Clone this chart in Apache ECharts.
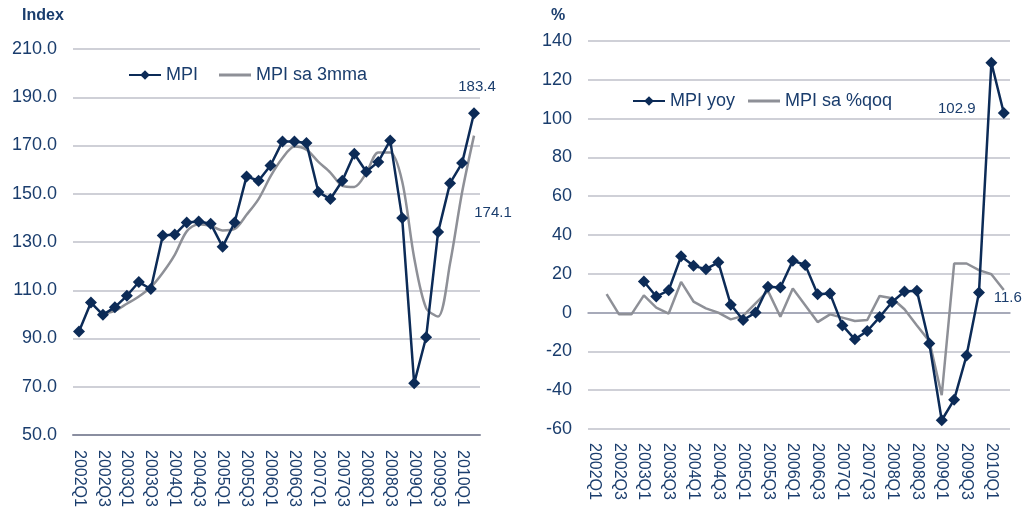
<!DOCTYPE html>
<html>
<head>
<meta charset="utf-8">
<script src="https://cdn.jsdelivr.net/npm/echarts@6/dist/echarts.min.js"></script>
<style>html,body{margin:0;padding:0;background:#fff}#c{width:1028px;height:509px}</style>
</head>
<body>
<div id="c"></div>
<script>
const categories = ['2002Q1','2002Q2','2002Q3','2002Q4','2003Q1','2003Q2','2003Q3','2003Q4',
  '2004Q1','2004Q2','2004Q3','2004Q4','2005Q1','2005Q2','2005Q3','2005Q4',
  '2006Q1','2006Q2','2006Q3','2006Q4','2007Q1','2007Q2','2007Q3','2007Q4',
  '2008Q1','2008Q2','2008Q3','2008Q4','2009Q1','2009Q2','2009Q3','2009Q4',
  '2010Q1','2010Q2'];
const mpi = [92.9, 104.9, 99.8, 103.0, 107.7, 113.4, 110.5, 132.7, 133.1, 138.1, 138.5, 137.6, 128.0, 138.1,
  157.2, 155.4, 161.7, 171.7, 171.7, 171.0, 150.7, 147.8, 155.4, 166.6, 159.1, 163.2, 172.1, 139.9,
  71.4, 90.5, 134.1, 154.4, 162.7, 183.4];
const mpiSa3mma = [null, null, 100.3, 101.5, 104.4, 107.4, 111.3, 117.3, 124.7, 134.4, 137.4, 136.7, 134.8, 135.4,
  141.3, 147.8, 157.2, 164.8, 169.6, 168.3, 163.2, 158.8, 153.3, 152.8, 158.6, 167.1, 167.1, 155.1,
  123.5, 102.6, 99.1, 121.2, 150.5, 174.1];
const mpiYoy = [null, null, null, null, 16.0, 8.3, 11.5, 29.0, 24.1, 22.4, 25.9, 4.1, -3.8, 0.0,
  13.3, 12.9, 26.7, 24.6, 9.5, 9.8, -6.6, -13.8, -9.5, -2.3, 5.5, 10.9, 11.2, -15.9,
  -55.5, -44.9, -22.1, 10.3, 128.8, 102.9];
const mpiSaQoq = [null, 9.5, -0.9, -0.9, 8.9, 2.6, -0.5, 15.8, 5.7, 2.2, 0.0, -3.5, -1.7, 4.8,
  11.2, -2.1, 12.4, 3.8, -4.9, -0.9, -2.6, -4.3, -3.8, 8.6, 7.4, 1.7, -6.6, -14.7,
  -42.6, 25.3, 25.3, 21.9, 19.8, 11.6];

const NAVY = '#0c2b57';
const GRAY = '#8e9097';
const TXT = '#1a3d6d';
const FONT = 'Liberation Sans, Arial, sans-serif';
const LAST = categories.length - 1;
const LINE_ICON = 'path://M0,0 L32,0 L32,3 L0,3 Z';

function lbl(extra) {
  return Object.assign({show: true, color: TXT, fontSize: 15, fontFamily: FONT, formatter: p => p.value.toFixed(1)}, extra);
}
function lastPoint(arr, labelCfg) {
  return {symbol: 'circle', symbolSize: 2, silent: true, itemStyle: {color: 'rgba(0,0,0,0)'},
    label: lbl(labelCfg),
    data: [{coord: [categories[LAST], arr[LAST]], value: arr[LAST]}]};
}

const xAxisBase = {
  type: 'category', data: categories, boundaryGap: true,
  axisTick: {show: false},
  axisLine: {show: true, lineStyle: {color: '#8a8ea0', width: 2}},
  axisLabel: {rotate: -90, interval: 1, color: TXT, fontSize: 16, fontFamily: FONT, margin: 15}
};
const yAxisBase = {
  type: 'value', axisLine: {show: false}, axisTick: {show: false},
  splitLine: {lineStyle: {color: '#bfc1ca', width: 1.5}},
  axisLabel: {color: TXT, fontSize: 18, fontFamily: FONT, margin: 16}
};

const option = {
  animation: false,
  textStyle: {fontFamily: FONT},
  title: [
    {text: 'Index', left: 22, top: 8, padding: 0, textStyle: {color: TXT, fontSize: 16, fontWeight: 'bold', fontFamily: FONT}},
    {text: '%', left: 551, top: 8, padding: 0, textStyle: {color: TXT, fontSize: 16, fontWeight: 'bold', fontFamily: FONT}}
  ],
  legend: [
    {data: ['MPI', {name: 'MPI sa 3mma', icon: LINE_ICON}], left: 128, top: 66, padding: 0,
      itemWidth: 32, itemHeight: 12, itemGap: 21,
      textStyle: {color: TXT, fontSize: 18, fontFamily: FONT}},
    {data: ['MPI yoy', {name: 'MPI sa %qoq', icon: LINE_ICON}], left: 632, top: 92, padding: 0,
      itemWidth: 32, itemHeight: 12, itemGap: 13,
      textStyle: {color: TXT, fontSize: 18, fontFamily: FONT}}
  ],
  grid: [
    {left: 73, right: 548, top: 49, bottom: 74, containLabel: false, outerBoundsMode: 'none'},
    {left: 588, right: 18, top: 41, bottom: 80, containLabel: false, outerBoundsMode: 'none'}
  ],
  xAxis: [
    Object.assign({}, xAxisBase, {gridIndex: 0}),
    Object.assign({}, xAxisBase, {gridIndex: 1, axisLabel: Object.assign({}, xAxisBase.axisLabel, {margin: 14}),
      axisLine: {show: true, lineStyle: {color: '#9a9db0', width: 1.5}}})
  ],
  yAxis: [
    Object.assign({}, yAxisBase, {gridIndex: 0, min: 50, max: 210, interval: 20,
      axisLabel: Object.assign({}, yAxisBase.axisLabel, {formatter: v => v.toFixed(1)})}),
    Object.assign({}, yAxisBase, {gridIndex: 1, min: -60, max: 140, interval: 20})
  ],
  series: [
    {name: 'MPI', type: 'line', xAxisIndex: 0, yAxisIndex: 0, data: mpi,
      symbol: 'diamond', symbolSize: 12, showAllSymbol: true,
      lineStyle: {color: NAVY, width: 2.5}, itemStyle: {color: NAVY}, z: 3,
      markPoint: lastPoint(mpi, {position: 'inside', offset: [3, -26]})},
    {name: 'MPI sa 3mma', type: 'line', xAxisIndex: 0, yAxisIndex: 0, data: mpiSa3mma,
      symbol: 'none', smooth: 0.3, lineStyle: {color: GRAY, width: 2.5}, itemStyle: {color: GRAY}, z: 2,
      markPoint: lastPoint(mpiSa3mma, {position: 'inside', offset: [19, 77]})},
    {name: 'MPI yoy', type: 'line', xAxisIndex: 1, yAxisIndex: 1, data: mpiYoy,
      symbol: 'diamond', symbolSize: 12, showAllSymbol: true,
      lineStyle: {color: NAVY, width: 2.5}, itemStyle: {color: NAVY}, z: 3,
      markPoint: lastPoint(mpiYoy, {position: 'inside', offset: [-47, -4]})},
    {name: 'MPI sa %qoq', type: 'line', xAxisIndex: 1, yAxisIndex: 1, data: mpiSaQoq,
      symbol: 'none', lineStyle: {color: GRAY, width: 2.5}, itemStyle: {color: GRAY}, z: 2,
      markPoint: lastPoint(mpiSaQoq, {position: 'inside', offset: [4, 8]})}
  ]
};

const chart = echarts.init(document.getElementById('c'), null, {renderer: 'canvas'});
chart.setOption(option);
</script>
</body>
</html>
